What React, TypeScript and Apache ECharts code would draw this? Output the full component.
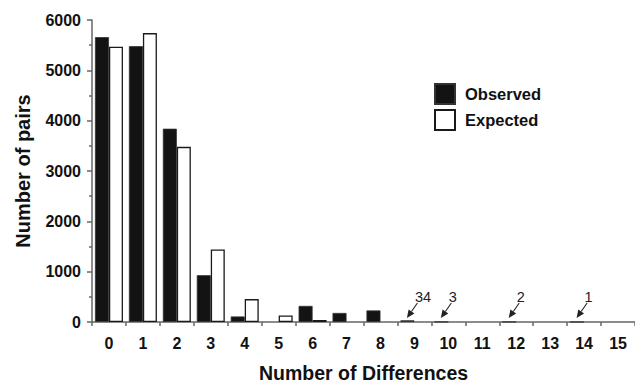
import React, { useEffect, useRef } from "react";
import * as echarts from "echarts";

const categories = ["0", "1", "2", "3", "4", "5", "6", "7", "8", "9", "10", "11", "12", "13", "14", "15"];
const observed = [5660, 5480, 3840, 930, 110, 0, 320, 180, 230, 34, 3, 0, 2, 0, 1, 0];
const expected = [5470, 5740, 3480, 1440, 455, 130, 40, 0, 0, 0, 0, 0, 0, 0, 0, 0];
const yTicks = [0, 1000, 2000, 3000, 4000, 5000, 6000];
// small observed counts called out with arrows: [category index, label]
const callouts: [number, string][] = [
  [9, "34"],
  [10, "3"],
  [12, "2"],
  [14, "1"],
];

const FONT = "'Liberation Sans', Arial, Helvetica, sans-serif";

export default function App() {
  const ref = useRef<HTMLDivElement>(null);
  useEffect(() => {
    if (!ref.current) return;
    document.body.style.margin = "0";
    const chart = echarts.init(ref.current, undefined, { renderer: "svg" });
    const barW = 14;
    const xTitle = {
      type: "text",
      left: 259,
      top: 363,
      style: { text: "Number of Differences", fontFamily: FONT, fontSize: 19.5, fontWeight: "bold", fill: "#111" },
    };
    chart.setOption({
      animation: false,
      backgroundColor: "#ffffff",
      textStyle: { fontFamily: FONT },
      grid: { left: 92, top: 20, bottom: 63, right: -8, containLabel: false },
      legend: {
        orient: "vertical",
        left: 434,
        top: 83,
        padding: 0,
        itemWidth: 20,
        itemHeight: 20,
        itemGap: 4,
        textStyle: { fontFamily: FONT, fontSize: 16.5, fontWeight: "bold", color: "#111", padding: [0, 0, 0, 5] },
        data: ["Observed", "Expected"],
        icon: "rect",
      },
      xAxis: {
        type: "category",
        data: categories,
        axisLine: { lineStyle: { color: "#666", width: 1.5 } },
        axisTick: { show: true, length: 4, lineStyle: { color: "#666", width: 1.5 }, alignWithLabel: false },
        axisLabel: { margin: 13, fontFamily: FONT, fontSize: 16, fontWeight: "bold", color: "#111", interval: 0 },
      },
      yAxis: {
        type: "value",
        min: yTicks[0],
        max: yTicks[yTicks.length - 1],
        interval: 1000,
        name: "Number of pairs",
        nameLocation: "middle",
        nameGap: 59,
        nameTextStyle: { fontFamily: FONT, fontSize: 20, fontWeight: "bold", color: "#111" },
        axisLine: { show: true, lineStyle: { color: "#666", width: 1.5 } },
        axisTick: { show: true, length: 5, lineStyle: { color: "#666", width: 1.5 } },
        minorTick: { show: true, splitNumber: 2, length: 3, lineStyle: { color: "#666", width: 1.5 } },
        splitLine: { show: false },
        axisLabel: {
          margin: 11,
          fontFamily: FONT,
          fontSize: 16,
          fontWeight: "bold",
          color: "#111",
          formatter: (v: number) => String(v),
        },
      },
      series: [
        {
          name: "Observed",
          type: "bar",
          data: observed.map((v) => (v === 0 ? null : v)),
          barWidth: barW,
          barGap: "0%",
          itemStyle: { color: "#131313", borderColor: "#333", borderWidth: 0.8 },
        },
        {
          name: "Expected",
          type: "bar",
          data: expected.map((v) => (v === 0 ? null : v)),
          barWidth: barW,
          barGap: "0%",
          itemStyle: { color: "#ffffff", borderColor: "#1a1a1a", borderWidth: 1.3 },
        },
      ],
      graphic: [xTitle],
    });

    const els: any[] = [];
    callouts.forEach(([idx, label]) => {
      const p = chart.convertToPixel({ gridIndex: 0 }, [idx, 0]) as number[];
      const tip = [p[0] - barW / 2 - 0.5, p[1] - 4];
      const tail = [tip[0] + 10.5, tip[1] - 15];
      const dx = tip[0] - tail[0];
      const dy = tip[1] - tail[1];
      const len = Math.sqrt(dx * dx + dy * dy);
      const ux = dx / len;
      const uy = dy / len;
      const hl = 8;
      const hw = 3.5;
      const bx = tip[0] - ux * hl;
      const by = tip[1] - uy * hl;
      els.push({
        type: "line",
        shape: { x1: tail[0], y1: tail[1], x2: bx, y2: by },
        style: { stroke: "#222", lineWidth: 1.1 },
      });
      els.push({
        type: "polygon",
        shape: {
          points: [
            [tip[0], tip[1]],
            [bx - uy * hw, by + ux * hw],
            [bx + uy * hw, by - ux * hw],
          ],
        },
        style: { fill: "#222" },
      });
      els.push({
        type: "text",
        x: tip[0] + 8,
        y: tip[1] - 21,
        style: { text: label, fontFamily: FONT, fontSize: 14.5, fill: "#222", textVerticalAlign: "middle", textAlign: "left" },
      });
    });
    chart.setOption({ graphic: [xTitle, ...els] });
    return () => chart.dispose();
  }, []);
  return <div ref={ref} style={{ position: "absolute", left: 0, top: 0, width: 635, height: 385 }} />;
}
